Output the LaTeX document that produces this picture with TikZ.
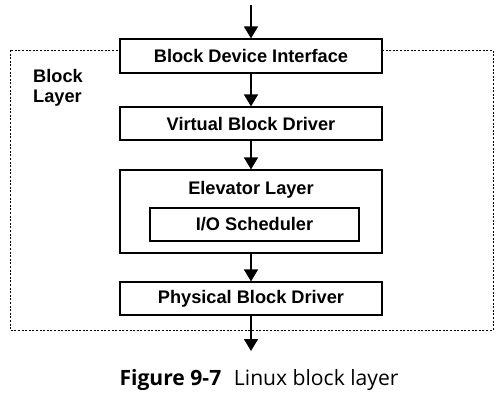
\documentclass[tikz,border=0pt]{standalone}
\usepackage{fontspec}
\setmainfont{Liberation Sans}
\newfontfamily\capfont{Open Sans}
\usetikzlibrary{arrows.meta}
\begin{document}
\begin{tikzpicture}[x=1pt,y=-1pt,
  lbl/.style={font=\fontsize{18.2}{20.5}\selectfont\bfseries,inner sep=0pt},
  box/.style={draw=black,line width=1.2pt,fill=white,inner sep=0pt,lbl},
  flow/.style={line width=1.4pt,-{Triangle[length=12pt,width=14pt]}},
  layerline/.style={draw=black,line width=1pt,dash pattern=on 2pt off 1.6pt}]
\useasboundingbox (0,0) rectangle (501,408);
\draw[layerline] (10,50) rectangle (493,330);
\node[box,minimum width=262pt,minimum height=34pt] (bdi) at (251,56) {Block Device Interface};
\node[box,minimum width=262pt,minimum height=33pt] (vbd) at (251,123.5) {Virtual Block Driver};
\node[box,minimum width=262pt,minimum height=83pt] (elev) at (251,211.5) {};
\node[lbl] (elevtxt) at (251,190) {Elevator Layer};
\node[box,minimum width=209pt,minimum height=33pt] (ios) at (254.5,224.5) {I/O Scheduler};
\node[box,minimum width=262pt,minimum height=33pt] (pbd) at (251,298.5) {Physical Block Driver};
\node[lbl,align=left,anchor=north west] (bl) at (33,69) {Block\\Layer};
\coordinate (top) at (251,5);
\coordinate (bot) at (251,351);
\draw[flow] (top) -- (bdi.north);
\draw[flow] (bdi.south) -- (vbd.north);
\draw[flow] (vbd.south) -- (elev.north);
\draw[flow] (elev.south) -- (pbd.north);
\draw[flow] (pbd.south) -- (bot);
\node[font=\capfont\fontsize{21.1}{25}\selectfont,inner sep=0pt] (cap) at (259,380) {\textbf{Figure 9-7}\hspace{0.6em}Linux block layer};
\end{tikzpicture}
\end{document}
